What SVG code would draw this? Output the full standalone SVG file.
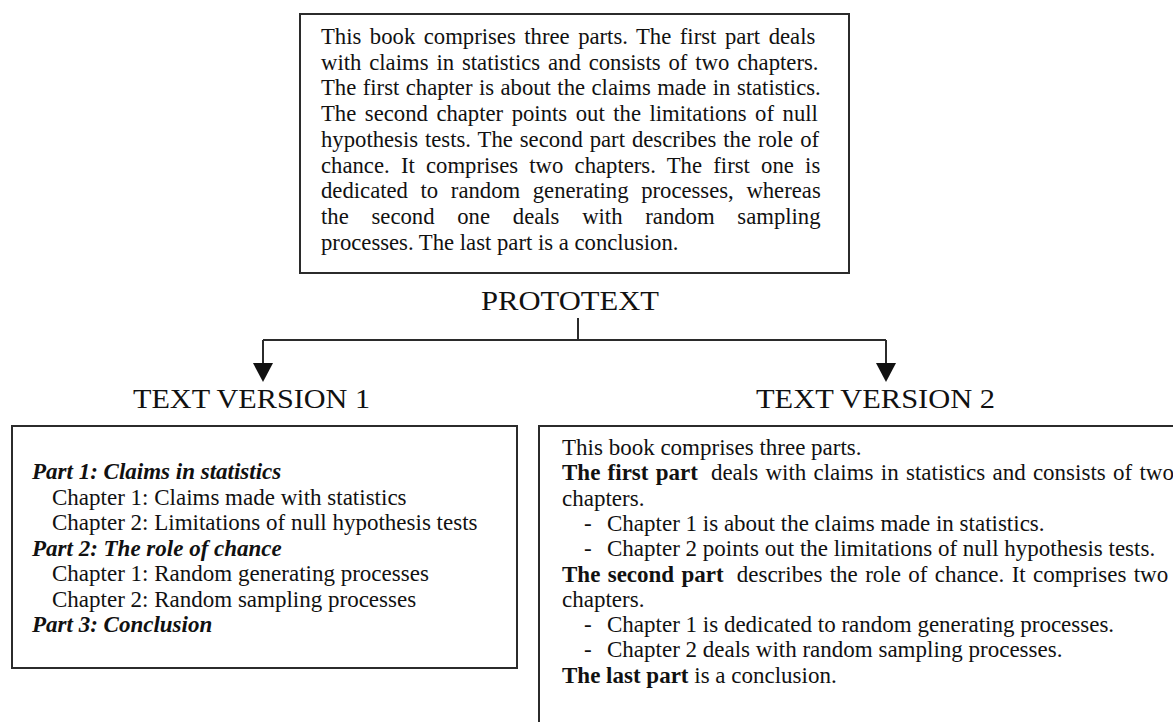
<svg xmlns="http://www.w3.org/2000/svg" width="1173" height="722" viewBox="0 0 1173 722">
<style>
.bg{fill:#fff}
.box{fill:#fff;stroke:#2b2b2b;stroke-width:2}
.t{font-family:"Liberation Serif","Times New Roman",serif;fill:#111}
.top{font-size:22.7px}
.low{font-size:23px}
.h{font-size:28px}
.b{font-weight:bold}
.bi{font-weight:bold;font-style:italic}
.conn{stroke:#2b2b2b;stroke-width:2;fill:none}
</style>
<defs>
<marker id="ah" markerUnits="userSpaceOnUse" viewBox="0 0 19 20" markerWidth="19" markerHeight="20" refX="9" refY="10" orient="auto">
<path d="M0,0 L19,10 L0,20 z" fill="#111"/>
</marker>
</defs>
<rect class="bg" x="0" y="0" width="1173" height="722"/>

<g id="prototext">
<rect class="box" x="300" y="14" width="549" height="259"/>
<g class="t top">
<text x="321" y="44" word-spacing="2.85">This book comprises three parts. The first part deals</text>
<text x="321" y="69.7" word-spacing="2.24">with claims in statistics and consists of two chapters.</text>
<text x="321" y="95.4" word-spacing="0.78">The first chapter is about the claims made in statistics.</text>
<text x="321" y="121.1" word-spacing="2.88">The second chapter points out the limitations of null</text>
<text x="321" y="146.8" word-spacing="1.27">hypothesis tests. The second part describes the role of</text>
<text x="321" y="172.5" word-spacing="5.6">chance. It comprises two chapters. The first one is</text>
<text x="321" y="198.2" word-spacing="6.96">dedicated to random generating processes, whereas</text>
<text x="321" y="223.9" word-spacing="17.1">the second one deals with random sampling</text>
<text x="321" y="249.6">processes. The last part is a conclusion.</text>
</g>
<text class="t h" x="481" y="310" textLength="178" lengthAdjust="spacingAndGlyphs">PROTOTEXT</text>
</g>

<g id="connectors">
<path class="conn" d="M578,318 V340 M263,340 H886"/>
<path class="conn" d="M263,340 V372" marker-end="url(#ah)"/>
<path class="conn" d="M886,340 V372" marker-end="url(#ah)"/>
</g>

<g id="text-version-1">
<text class="t h" x="133" y="408" textLength="237" lengthAdjust="spacingAndGlyphs">TEXT VERSION 1</text>
<rect class="box" x="12" y="426" width="505" height="242"/>
<g class="t low">
<text class="bi" x="32" y="479">Part 1: Claims in statistics</text>
<text x="52" y="504.5">Chapter 1: Claims made with statistics</text>
<text x="52" y="530">Chapter 2: Limitations of null hypothesis tests</text>
<text class="bi" x="32" y="555.5">Part 2: The role of chance</text>
<text x="52" y="581">Chapter 1: Random generating processes</text>
<text x="52" y="606.5">Chapter 2: Random sampling processes</text>
<text class="bi" x="32" y="632">Part 3: Conclusion</text>
</g>
</g>

<g id="text-version-2">
<text class="t h" x="756" y="408" textLength="239" lengthAdjust="spacingAndGlyphs">TEXT VERSION 2</text>
<rect class="box" x="539" y="426" width="700" height="400"/>
<g class="t low">
<text x="562" y="455">This book comprises three parts.</text>
<text x="562" y="480.3" word-spacing="1.5"><tspan class="b">The first part</tspan><tspan dx="5.75"> deals with claims in statistics and consists of two</tspan></text>
<text x="562" y="505.6">chapters.</text>
<text x="584" y="530.9">-</text><text x="607" y="530.9">Chapter 1 is about the claims made in statistics.</text>
<text x="584" y="556.2">-</text><text x="607" y="556.2">Chapter 2 points out the limitations of null hypothesis tests.</text>
<text x="562" y="581.5" word-spacing="1.6"><tspan class="b">The second part</tspan><tspan dx="5.75"> describes the role of chance. It comprises two</tspan></text>
<text x="562" y="606.8">chapters.</text>
<text x="584" y="632.1">-</text><text x="607" y="632.1">Chapter 1 is dedicated to random generating processes.</text>
<text x="584" y="657.4">-</text><text x="607" y="657.4">Chapter 2 deals with random sampling processes.</text>
<text x="562" y="682.7"><tspan class="b">The last part</tspan> is a conclusion.</text>
</g>
</g>
</svg>
